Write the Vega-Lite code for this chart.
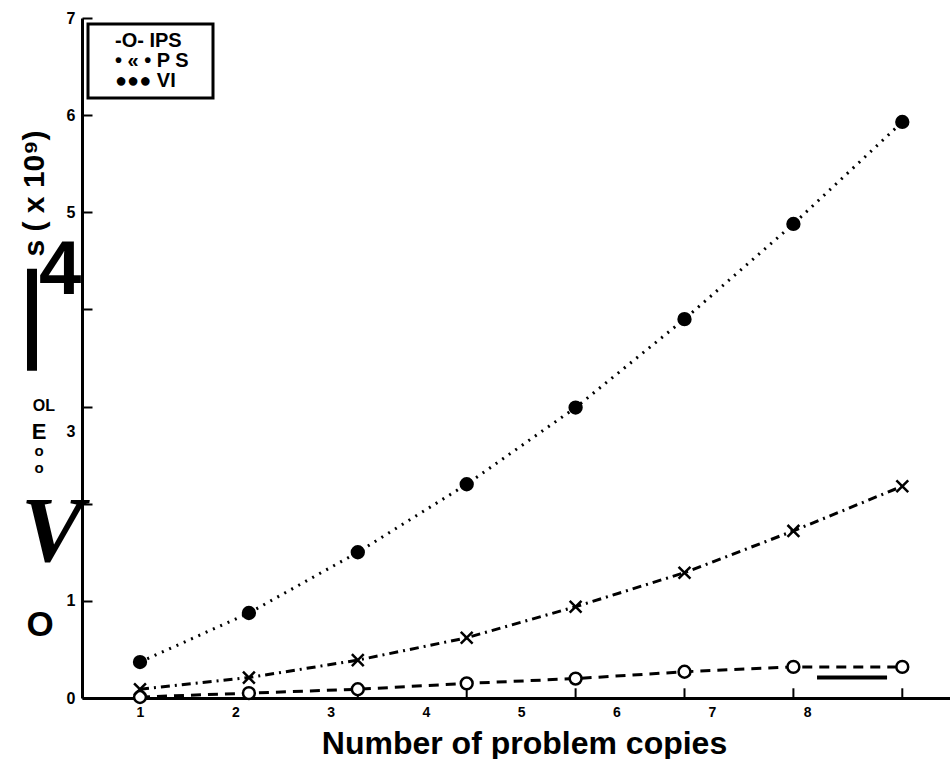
{
  "$schema": "https://vega.github.io/schema/vega-lite/v6.json",
  "width": 868,
  "height": 680,
  "autosize": "none",
  "padding": {"left": 82, "top": 18, "right": 0, "bottom": 61},
  "background": "white",
  "config": {"view": {"stroke": null}, "font": "Liberation Sans", "legend": {"strokeWidth": 3}},
  "data": {
    "values": [
      {"copies": 1, "value": 0.01, "method": "IPS"},
      {"copies": 2, "value": 0.05, "method": "IPS"},
      {"copies": 3, "value": 0.09, "method": "IPS"},
      {"copies": 4, "value": 0.15, "method": "IPS"},
      {"copies": 5, "value": 0.20, "method": "IPS"},
      {"copies": 6, "value": 0.27, "method": "IPS"},
      {"copies": 7, "value": 0.32, "method": "IPS"},
      {"copies": 8, "value": 0.32, "method": "IPS"},
      {"copies": 1, "value": 0.09, "method": "PS"},
      {"copies": 2, "value": 0.21, "method": "PS"},
      {"copies": 3, "value": 0.39, "method": "PS"},
      {"copies": 4, "value": 0.62, "method": "PS"},
      {"copies": 5, "value": 0.94, "method": "PS"},
      {"copies": 6, "value": 1.29, "method": "PS"},
      {"copies": 7, "value": 1.72, "method": "PS"},
      {"copies": 8, "value": 2.18, "method": "PS"},
      {"copies": 1, "value": 0.37, "method": "VI"},
      {"copies": 2, "value": 0.875, "method": "VI"},
      {"copies": 3, "value": 1.50, "method": "VI"},
      {"copies": 4, "value": 2.20, "method": "VI"},
      {"copies": 5, "value": 2.99, "method": "VI"},
      {"copies": 6, "value": 3.90, "method": "VI"},
      {"copies": 7, "value": 4.88, "method": "VI"},
      {"copies": 8, "value": 5.93, "method": "VI"}
    ]
  },
  "layer": [
    {
      "mark": {"type": "line", "color": "black"},
      "encoding": {
        "x": {
          "field": "copies", "type": "quantitative",
          "scale": {"domain": [0.4674, 8.438], "nice": false, "zero": false},
          "axis": {
            "title": "Number of problem copies",
            "values": [1, 1.8751, 2.7502, 3.6253, 4.5004, 5.3755, 6.2506, 7.1257],
            "labelExpr": "format(round((datum.value-1)/0.8751)+1,'d')",
            "ticks": false,
            "labelPadding": 7,
            "labelFont": "Liberation Sans",
            "labelFontWeight": "bold",
            "labelFontSize": 14,
            "labelColor": "black",
            "labelFlush": false,
            "domainColor": "black",
            "domainWidth": 3,
            "grid": false,
            "titleFont": "Liberation Sans",
            "titleFontWeight": "bold",
            "titleFontSize": 32,
            "titleColor": "black",
            "titleX": 442,
            "titleY": 55,
            "titleBaseline": "alphabetic",
            "titleAlign": "center"
          }
        },
        "y": {
          "field": "value", "type": "quantitative",
          "scale": {"domain": [0, 7], "nice": false, "zero": true},
          "axis": {
            "title": "s ( x 10⁹)",
            "values": [0, 1, 2, 3, 4, 5, 6, 7],
            "labelExpr": "datum.value==2||datum.value==4 ? '' : format(datum.value,'d')",
            "labelFont": "Liberation Sans",
            "labelFontWeight": "bold",
            "labelFontSize": 16,
            "labelOffset": {"condition": {"test": "datum.value==3", "value": 25}, "value": 0},
            "labelColor": "black",
            "labelPadding": 17,
            "labelFlush": false,
            "tickSize": -10,
            "tickWidth": 2,
            "tickColor": "black",
            "domainColor": "black",
            "domainWidth": 3,
            "grid": false,
            "titleFont": "Liberation Sans",
            "titleFontWeight": "bold",
            "titleFontSize": 30,
            "titleColor": "black",
            "titleX": -48,
            "titleY": 175,
            "titleBaseline": "middle",
            "titleAlign": "center"
          }
        },
        "strokeDash": {
          "field": "method", "type": "nominal",
          "scale": {"domain": ["IPS", "PS", "VI"], "range": [[10, 7], [9, 5, 2, 5], [2, 6]]},
          "legend": {
            "orient": "none",
            "legendX": 6,
            "legendY": 6,
            "title": null,
            "symbolOpacity": 0,
            "symbolSize": 4,
            "labelOffset": 0,
            "labelExpr": "datum.label == 'IPS' ? '-O-  IPS' : datum.label == 'PS' ? '• « •    P S' : '●●●  VI'",
            "labelFont": "Liberation Sans",
            "labelFontWeight": "bold",
            "labelFontSize": 20,
            "labelColor": "black",
            "strokeColor": "black",
            "padding": 7,
            "rowPadding": 0
          }
        },
        "strokeWidth": {
          "field": "method", "type": "nominal",
          "scale": {"domain": ["IPS", "PS", "VI"], "range": [3, 3, 2.5]},
          "legend": null
        }
      }
    },
    {
      "transform": [{"filter": "datum.method == 'IPS'"}],
      "mark": {"type": "rule", "color": "black", "strokeWidth": 2},
      "encoding": {
        "x": {"field": "copies", "type": "quantitative"},
        "y": {"datum": 0},
        "y2": {"datum": 0.1}
      }
    },
    {
      "data": {"values": [{}]},
      "mark": {"type": "rule", "color": "black", "strokeWidth": 4},
      "encoding": {
        "x": {"datum": 7.217},
        "x2": {"datum": 7.86},
        "y": {"datum": 0.21}
      }
    },
    {
      "mark": {"type": "point", "stroke": "black", "strokeWidth": 2.5, "opacity": 1, "size": 140},
      "encoding": {
        "x": {"field": "copies", "type": "quantitative"},
        "y": {"field": "value", "type": "quantitative"},
        "fill": {
          "field": "method", "type": "nominal",
          "scale": {"domain": ["IPS", "PS", "VI"], "range": ["white", "black", "black"]},
          "legend": null
        },
        "shape": {
          "field": "method", "type": "nominal",
          "scale": {"domain": ["IPS", "PS", "VI"], "range": ["circle", "M-1,-1L1,1M-1,1L1,-1", "circle"]},
          "legend": null
        }
      }
    },
    {
      "data": {"values": [{}]},
      "mark": {"type": "rect", "color": "black"},
      "encoding": {
        "x": {"datum": -0.0377},
        "x2": {"datum": 0.0542},
        "y": {"datum": 4.42},
        "y2": {"datum": 3.37}
      }
    },
    {
      "data": {"values": [{}]},
      "mark": {"type": "text", "text": "4", "font": "Liberation Sans", "fontWeight": "bold", "fontSize": 76, "color": "black", "align": "center", "baseline": "middle"},
      "encoding": {"x": {"datum": 0.266}, "y": {"datum": 4.4}}
    },
    {
      "data": {"values": [{}]},
      "mark": {"type": "text", "text": "V", "font": "Liberation Serif", "fontStyle": "italic", "fontWeight": "bold", "fontSize": 94, "color": "black", "align": "center", "baseline": "middle"},
      "encoding": {"x": {"datum": 0.192}, "y": {"datum": 1.70}}
    },
    {
      "data": {"values": [{}]},
      "mark": {"type": "text", "text": "OL", "font": "Liberation Sans", "fontWeight": "bold", "fontSize": 16, "color": "black", "align": "center", "baseline": "middle"},
      "encoding": {"x": {"datum": 0.118}, "y": {"datum": 3.01}}
    },
    {
      "data": {"values": [{}]},
      "mark": {"type": "text", "text": "E", "font": "Liberation Sans", "fontWeight": "bold", "fontSize": 22, "color": "black", "align": "center", "baseline": "middle"},
      "encoding": {"x": {"datum": 0.0725}, "y": {"datum": 2.74}}
    },
    {
      "data": {"values": [{}]},
      "mark": {"type": "text", "text": "o", "font": "Liberation Sans", "fontWeight": "bold", "fontSize": 15, "color": "black", "align": "center", "baseline": "middle"},
      "encoding": {"x": {"datum": 0.0725}, "y": {"datum": 2.54}}
    },
    {
      "data": {"values": [{}]},
      "mark": {"type": "text", "text": "o", "font": "Liberation Sans", "fontWeight": "bold", "fontSize": 15, "color": "black", "align": "center", "baseline": "middle"},
      "encoding": {"x": {"datum": 0.0725}, "y": {"datum": 2.37}}
    },
    {
      "data": {"values": [{}]},
      "mark": {"type": "text", "text": "O", "font": "Liberation Sans", "fontWeight": "bold", "fontSize": 35, "color": "black", "align": "center", "baseline": "middle"},
      "encoding": {"x": {"datum": 0.082}, "y": {"datum": 0.75}}
    }
  ]
}
